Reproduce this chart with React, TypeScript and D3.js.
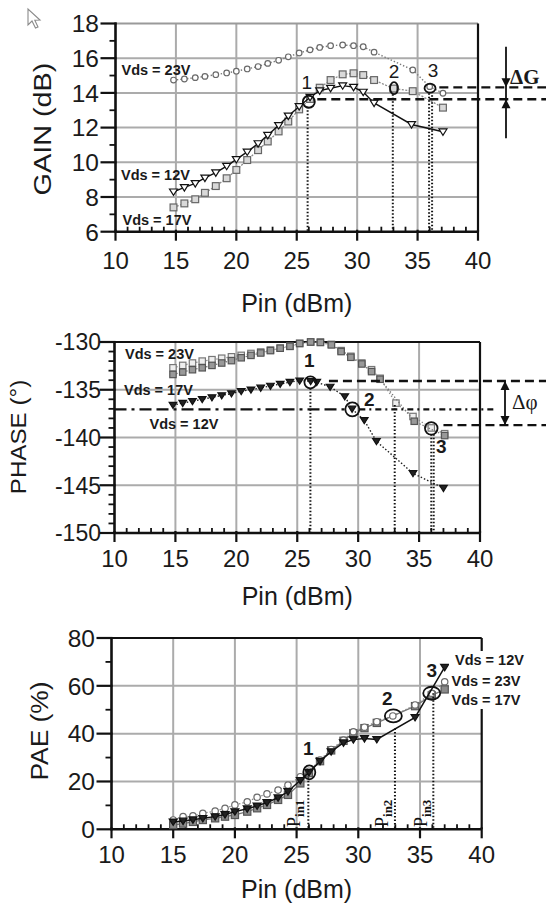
import React from "react";
import * as d3 from "d3";

const FONT = "'Liberation Sans', Arial, Helvetica, sans-serif";
const SERIF = "'Liberation Serif', 'Times New Roman', serif";

// ---------- GAIN (dB) vs Pin (dBm) ----------
const GAIN_PIN = [14.8, 15.7, 16.6, 17.4, 18.3, 19.2, 20.0, 20.9, 21.8, 22.6, 23.5, 24.3, 25.2, 26.1, 26.9, 27.8, 28.8, 29.7, 30.5, 31.4];
const GAIN_12 = [8.3, 8.55, 8.78, 9.1, 9.4, 9.78, 10.17, 10.6, 11.08, 11.56, 12.13, 12.67, 13.22, 13.75, 14.13, 14.27, 14.42, 14.33, 14.05, 13.42];
const GAIN_12_TAIL_PIN = [34.5, 37.1];
const GAIN_12_TAIL = [12.18, 11.76];
const GAIN_17 = [7.4, 7.63, 7.87, 8.24, 8.63, 9.08, 9.56, 10.13, 10.7, 11.2, 11.78, 12.35, 13.05, 13.65, 14.3, 14.74, 15.07, 15.13, 15.03, 14.74];
const GAIN_17_TAIL_PIN = [33.0, 34.6, 37.1];
const GAIN_17_TAIL = [14.25, 14.1, 13.15];
const GAIN_23 = [14.74, 14.8, 14.88, 14.95, 15.05, 15.15, 15.25, 15.38, 15.52, 15.7, 15.88, 16.08, 16.3, 16.48, 16.62, 16.72, 16.76, 16.72, 16.66, 16.35];
const GAIN_23_TAIL_PIN = [34.6, 36.0, 37.1];
const GAIN_23_TAIL = [15.32, 14.36, 13.98];

// ---------- PHASE (deg) vs Pin (dBm) ----------
const PHASE_PIN = [14.8, 15.6, 16.4, 17.2, 18.0, 18.8, 19.6, 20.4, 21.2, 22.0, 22.8, 23.6, 24.4, 25.2, 26.1, 26.9, 27.8, 28.6, 29.4, 30.3, 31.1, 31.8];
const PHASE_23 = [-132.7, -132.45, -132.2, -132.0, -131.85, -131.7, -131.55, -131.4, -131.2, -131.05, -130.85, -130.65, -130.45, -130.15, -130.0, -130.0, -130.25, -130.9, -131.5, -132.2, -132.9, -133.8];
const PHASE_23_TAIL_PIN = [33.1, 34.5, 36.0, 37.1];
const PHASE_23_TAIL = [-136.4, -137.8, -139.0, -139.6];
const PHASE_17 = [-133.4, -133.15, -132.9, -132.7, -132.45, -132.2, -131.95, -131.65, -131.4, -131.15, -130.9, -130.65, -130.45, -130.15, -130.0, -130.05, -130.3, -131.0, -131.6, -132.3, -133.1, -133.9];
const PHASE_17_TAIL_PIN = [34.6, 37.1];
const PHASE_17_TAIL = [-138.3, -139.8];
const PHASE_12_PIN = [14.8, 15.6, 16.4, 17.2, 18.0, 18.8, 19.6, 20.4, 21.2, 22.0, 22.8, 23.6, 24.4, 25.2, 26.1, 26.6, 27.7, 28.9, 29.5, 30.5, 31.5, 34.5, 37.0];
const PHASE_12 = [-136.6, -136.4, -136.2, -136.0, -135.8, -135.6, -135.4, -135.15, -135.0, -134.8, -134.6, -134.4, -134.2, -134.05, -134.1, -134.2, -134.7, -135.7, -137.0, -138.2, -140.4, -143.75, -145.3];

// ---------- PAE (%) vs Pin (dBm) ----------
const PAE_PIN = [15, 15.8, 16.6, 17.4, 18.4, 19.2, 20, 21, 21.8, 22.6, 23.5, 24.3, 25.3, 26.0, 26.9, 27.8, 28.8, 29.6, 30.5, 31.5];
const PAE_23 = [3.9, 5.3, 5.6, 6.7, 7.65, 8.8, 10.2, 11.5, 13.4, 14.8, 16.4, 18.5, 22, 24.3, 29, 33.4, 37.3, 40.8, 42.7, 45];
const PAE_23_TAIL_PIN = [32.8, 34.6, 35.95, 37.0];
const PAE_23_TAIL = [47.4, 52, 56.9, 61.7];
const PAE_17 = [1.8, 2.4, 3.1, 3.9, 4.6, 5.3, 6.0, 7.4, 8.8, 10.2, 12.3, 14.4, 19.2, 23.5, 28.5, 33, 37, 40.2, 42.3, 44.5];
const PAE_17_TAIL_PIN = [34.6, 35.95, 37.0];
const PAE_17_TAIL = [51.5, 56, 58.5];
const PAE_12 = [3.1, 3.5, 4, 4.6, 5.3, 6.2, 7.4, 8.6, 9.8, 11.2, 13.2, 15.8, 20.5, 23.8, 28.5, 32.5, 36.2, 37.5, 38, 37.6];
const PAE_12_TAIL_PIN = [34.6, 37.0];
const PAE_12_TAIL = [46.8, 67.8];

const X_TICKS = [10, 15, 20, 25, 30, 35, 40];
const GAIN_TICKS = [6, 8, 10, 12, 14, 16, 18];
const PHASE_TICKS = [-150, -145, -140, -135, -130];
const PAE_TICKS = [0, 20, 40, 60, 80];

type Pt = [number, number];
const zip = (xs: number[], ys: number[]): Pt[] => xs.map((x, i) => [x, ys[i]] as Pt);

interface Cfg {
  sx: d3.ScaleLinear<number, number>;
  sy: d3.ScaleLinear<number, number>;
  yTicks: number[];
  yMinor: number;
  yLabelX: number;
  xLabelY: number;
  titleY: number;
  yTitle: string;
  yTitleX: number;
  yTitleY: number;
  yTitleSize: number;
  yTitleStretch: number;
  topStroke: string;
  yTickFont: number;
}

function Frame({ c }: { c: Cfg }) {
  const { sx, sy } = c;
  const [left, right] = sx.range();
  const [bottom, top] = sy.range();
  const [y0, y1] = sy.domain();
  const yMinor = d3.range(y0, y1 + 1e-6, c.yMinor).filter(v => !c.yTicks.some(t => Math.abs(t - v) < 1e-6));
  const xMinor = d3.range(10, 40.0001, 1).filter(v => v % 5 !== 0);
  const grid = "#ababab";
  return (
    <g>
      {X_TICKS.slice(1, -1).map(v => (
        <line key={"gx" + v} x1={sx(v)} x2={sx(v)} y1={top} y2={bottom} stroke={grid} strokeWidth={2} />
      ))}
      {c.yTicks.slice(1, -1).map(v => (
        <line key={"gy" + v} x1={left} x2={right} y1={sy(v)} y2={sy(v)} stroke={grid} strokeWidth={2} />
      ))}
      <line x1={left} x2={right} y1={top} y2={top} stroke={c.topStroke} strokeWidth={2} />
      <line x1={right} x2={right} y1={top} y2={bottom} stroke="#111" strokeWidth={2.2} />
      <line x1={left} x2={left} y1={top - 1} y2={bottom + 1} stroke="#111" strokeWidth={2.6} />
      <line x1={left - 1} x2={right} y1={bottom} y2={bottom} stroke="#111" strokeWidth={2.6} />
      {c.yTicks.map(v => (
        <line key={"ty" + v} x1={left - 15} x2={left + 1} y1={sy(v)} y2={sy(v)} stroke="#111" strokeWidth={2.2} />
      ))}
      {yMinor.map(v => (
        <line key={"tym" + v} x1={left - 6} x2={left} y1={sy(v)} y2={sy(v)} stroke="#111" strokeWidth={1.8} />
      ))}
      {X_TICKS.map(v => (
        <line key={"tx" + v} x1={sx(v)} x2={sx(v)} y1={bottom - 2} y2={bottom + 9} stroke="#111" strokeWidth={2.2} />
      ))}
      {xMinor.map(v => (
        <line key={"txm" + v} x1={sx(v)} x2={sx(v)} y1={bottom - 5} y2={bottom} stroke="#111" strokeWidth={1.8} />
      ))}
      {c.yTicks.map(v => (
        <text key={"ly" + v} x={c.yLabelX} y={sy(v) + c.yTickFont * 0.36} textAnchor="end"
          fontFamily={FONT} fontSize={c.yTickFont} fill="#1a1a1a">{String(v)}</text>
      ))}
      {X_TICKS.map(v => (
        <text key={"lx" + v} x={sx(v)} y={c.xLabelY} textAnchor="middle"
          fontFamily={FONT} fontSize={24} fill="#1a1a1a">{String(v)}</text>
      ))}
      <text x={(left + right) / 2} y={c.titleY} textAnchor="middle" fontFamily={FONT} fontSize={25} fill="#1a1a1a">Pin (dBm)</text>
      <text transform={`translate(${c.yTitleX},${c.yTitleY}) rotate(-90) scale(${c.yTitleStretch},1)`}
        textAnchor="middle" fontFamily={FONT} fontSize={c.yTitleSize} fill="#1a1a1a">{c.yTitle}</text>
    </g>
  );
}

type MarkerKind = "circle" | "square" | "tri";
interface SStyle {
  color: string; width: number; dash?: string;
  marker: MarkerKind; mStroke: string; mFill: string; size: number;
}

function Marker({ k, x, y, s }: { k: MarkerKind; x: number; y: number; s: SStyle }) {
  const z = s.size;
  if (k === "circle") return <circle cx={x} cy={y} r={z} fill={s.mFill} stroke={s.mStroke} strokeWidth={1.2} />;
  if (k === "square") return <rect x={x - z} y={y - z} width={2 * z} height={2 * z} fill={s.mFill} stroke={s.mStroke} strokeWidth={1.2} />;
  return <path d={`M${x - z},${y - z * 0.7}L${x + z},${y - z * 0.7}L${x},${y + z * 0.9}Z`} fill={s.mFill} stroke={s.mStroke} strokeWidth={1.2} />;
}

function Series({ pts, sx, sy, s }: { pts: Pt[]; sx: any; sy: any; s: SStyle }) {
  const line = d3.line<Pt>().x(d => sx(d[0])).y(d => sy(d[1]))(pts) || "";
  return (
    <g>
      <path d={line} fill="none" stroke={s.color} strokeWidth={s.width} strokeDasharray={s.dash} />
      {pts.map((p, i) => <Marker key={i} k={s.marker} x={sx(p[0])} y={sy(p[1])} s={s} />)}
    </g>
  );
}

const S23: SStyle = { color: "#7a7a7a", width: 1.4, dash: "1.4 2", marker: "circle", mStroke: "#6a6a6a", mFill: "#fff", size: 2.8 };
const S17: SStyle = { color: "#8a8a8a", width: 1.3, dash: "2 1.5", marker: "square", mStroke: "#666", mFill: "#d9d9d9", size: 3.4 };
const S12: SStyle = { color: "#111", width: 1.4, marker: "tri", mStroke: "#111", mFill: "#fff", size: 4 };

const P23: SStyle = { color: "#8a8a8a", width: 1.3, dash: "1.4 2", marker: "square", mStroke: "#777", mFill: "#eee", size: 3.2 };
const P17: SStyle = { color: "#777", width: 1.3, dash: "1.4 2", marker: "square", mStroke: "#555", mFill: "#999", size: 3.2 };
const P12: SStyle = { color: "#222", width: 1.4, dash: "1.5 2", marker: "tri", mStroke: "#111", mFill: "#222", size: 3.8 };

const E23: SStyle = { color: "#888", width: 1.3, dash: "1.4 2", marker: "circle", mStroke: "#6a6a6a", mFill: "#fff", size: 3.2 };
const E17: SStyle = { color: "#777", width: 1.3, marker: "square", mStroke: "#555", mFill: "#8a8a8a", size: 3.6 };
const E12: SStyle = { color: "#111", width: 1.5, marker: "tri", mStroke: "#111", mFill: "#222", size: 4 };

const vds = (t: string, x: number, y: number, key: string) => (
  <text key={key} x={x} y={y} fontFamily={FONT} fontWeight="bold" fontSize={14.5} fill="#1a1a1a">{t}</text>
);

function Num({ t, x, y, bold }: { t: string; x: number; y: number; bold?: boolean }) {
  return <text x={x} y={y} textAnchor="middle" fontFamily={FONT} fontSize={19} fontWeight={bold ? "bold" : "normal"} fill="#1a1a1a">{t}</text>;
}

function VDot({ x, y1, y2 }: { x: number; y1: number; y2: number }) {
  return <line x1={x} x2={x} y1={y1} y2={y2} stroke="#111" strokeWidth={2} strokeDasharray="1.5 2" />;
}

function Arrow({ x, tip, dir }: { x: number; tip: number; dir: 1 | -1 }) {
  const b = tip - dir * 9;
  return <path d={`M${x - 4.5},${b}L${x + 4.5},${b}L${x},${tip}Z`} fill="#111" />;
}

export default function App() {
  const gx = d3.scaleLinear().domain([10, 40]).range([115.5, 478]);
  const gy = d3.scaleLinear().domain([6, 18]).range([231.7, 23.5]);
  const px = d3.scaleLinear().domain([10, 40]).range([114.5, 480]);
  const py = d3.scaleLinear().domain([-150, -130]).range([533, 342]);
  const ex = d3.scaleLinear().domain([10, 40]).range([111.5, 481.7]);
  const ey = d3.scaleLinear().domain([0, 80]).range([829.3, 638]);

  const gainCfg: Cfg = {
    sx: gx, sy: gy, yTicks: GAIN_TICKS, yMinor: 1, yLabelX: 99, xLabelY: 268.5, titleY: 311.5,
    yTitle: "GAIN (dB)", yTitleX: 50.5, yTitleY: 129, yTitleSize: 24, yTitleStretch: 1.2, topStroke: "#9a9a9a", yTickFont: 24.5,
  };
  const phaseCfg: Cfg = {
    sx: px, sy: py, yTicks: PHASE_TICKS, yMinor: 1, yLabelX: 101, xLabelY: 566.5, titleY: 605,
    yTitle: "PHASE (°)", yTitleX: 26, yTitleY: 437, yTitleSize: 22, yTitleStretch: 1.1, topStroke: "#111", yTickFont: 23,
  };
  const paeCfg: Cfg = {
    sx: ex, sy: ey, yTicks: PAE_TICKS, yMinor: 10, yLabelX: 95, xLabelY: 863, titleY: 898,
    yTitle: "PAE (%)", yTitleX: 47.5, yTitleY: 731, yTitleSize: 24, yTitleStretch: 1.1, topStroke: "#111", yTickFont: 24.5,
  };

  const g1: Pt = [26.0, 13.49], g2: Pt = [33.05, 14.27], g3: Pt = [36.03, 14.27];
  const gDashHi = 14.32, gDashLo = 13.63;
  const p1: Pt = [26.08, -134.22], p2: Pt = [29.52, -137.05], p3: Pt = [36.0, -139.04];
  const pDashHi = -134.08, pDashLo = -138.7;
  const e1: Pt = [26.03, 23.84], e2: Pt = [32.84, 47.4], e3: Pt = [35.95, 56.9];

  return (
    <svg width={546} height={907} viewBox="0 0 546 907" style={{ display: "block", position: "absolute", left: 0, top: 0, background: "#fff" }}>
      <rect x={0} y={0} width={546} height={907} fill="#fff" />
      <path d="M28,9 L28,25 L32,21 L35.5,28 L38,27 L34.8,20.2 L40,20 Z" fill="#fff" stroke="#8a8a8a" strokeWidth={1.1} />

      {/* ================= GAIN ================= */}
      <Frame c={gainCfg} />
      <Series pts={zip(GAIN_PIN, GAIN_23).concat(zip(GAIN_23_TAIL_PIN, GAIN_23_TAIL))} sx={gx} sy={gy} s={S23} />
      <Series pts={zip(GAIN_PIN, GAIN_17).concat(zip(GAIN_17_TAIL_PIN, GAIN_17_TAIL))} sx={gx} sy={gy} s={S17} />
      <Series pts={zip(GAIN_PIN, GAIN_12).concat(zip(GAIN_12_TAIL_PIN, GAIN_12_TAIL))} sx={gx} sy={gy} s={S12} />
      <VDot x={gx(25.9)} y1={gy(g1[1]) + 5} y2={gy(6)} />
      <VDot x={gx(32.95)} y1={gy(g2[1]) + 6} y2={gy(6)} />
      <VDot x={gx(35.95)} y1={gy(g3[1]) + 5} y2={gy(6)} />
      <VDot x={gx(36.2)} y1={gy(g3[1]) + 7} y2={gy(6)} />
      <line x1={gx(26.7)} x2={546} y1={gy(gDashLo)} y2={gy(gDashLo)} stroke="#111" strokeWidth={2.4} strokeDasharray="9 5" />
      <line x1={gx(36.8)} x2={546} y1={gy(gDashHi)} y2={gy(gDashHi)} stroke="#111" strokeWidth={2.4} strokeDasharray="9 5" />
      <circle cx={gx(g1[0])} cy={gy(g1[1])} r={6} fill="none" stroke="#111" strokeWidth={1.8} />
      <ellipse cx={gx(g2[0])} cy={gy(g2[1])} rx={4} ry={6} fill="none" stroke="#111" strokeWidth={1.8} />
      <ellipse cx={gx(g3[0])} cy={gy(g3[1])} rx={5.5} ry={4.5} fill="none" stroke="#111" strokeWidth={1.8} />
      <Num t="1" x={gx(g1[0]) - 2} y={gy(g1[1]) - 13} />
      <Num t="2" x={gx(g2[0])} y={gy(g2[1]) - 10} />
      <Num t="3" x={gx(g3[0]) + 3} y={gy(g3[1]) - 11.5} />
      <line x1={506} x2={506} y1={46.7} y2={138.3} stroke="#111" strokeWidth={1.8} />
      <Arrow x={506} tip={gy(gDashHi)} dir={1} />
      <Arrow x={506} tip={gy(gDashLo)} dir={-1} />
      <text x={510} y={83.5} fontFamily={SERIF} fontSize={21} fontWeight="bold" fill="#1a1a1a">ΔG</text>
      {vds("Vds = 23V", 121.5, 75, "g23")}
      {vds("Vds = 12V", 121, 180, "g12")}
      {vds("Vds = 17V", 122.5, 225, "g17")}

      {/* ================= PHASE ================= */}
      <Frame c={phaseCfg} />
      <Series pts={zip(PHASE_PIN, PHASE_23).concat(zip(PHASE_23_TAIL_PIN, PHASE_23_TAIL))} sx={px} sy={py} s={P23} />
      <Series pts={zip(PHASE_PIN, PHASE_17).concat(zip(PHASE_17_TAIL_PIN, PHASE_17_TAIL))} sx={px} sy={py} s={P17} />
      <Series pts={zip(PHASE_12_PIN, PHASE_12)} sx={px} sy={py} s={P12} />
      <VDot x={px(p1[0])} y1={py(p1[1]) + 6} y2={py(-150)} />
      <VDot x={px(33.0)} y1={py(-136.6)} y2={py(-150)} />
      <VDot x={px(p3[0])} y1={py(p3[1]) + 6} y2={py(-150)} />
      <VDot x={px(36.2)} y1={py(p3[1]) + 6} y2={py(-150)} />
      <line x1={px(27.6)} x2={546} y1={py(pDashHi)} y2={py(pDashHi)} stroke="#111" strokeWidth={2.4} strokeDasharray="9 5" />
      <line x1={px(10)} x2={px(p2[0]) - 7} y1={py(p2[1])} y2={py(p2[1])} stroke="#111" strokeWidth={2.2} strokeDasharray="12 5 3 5 12 5" />
      <line x1={px(p2[0]) + 7} x2={497} y1={py(p2[1])} y2={py(p2[1])} stroke="#111" strokeWidth={2.2} strokeDasharray="6 4 2 4" />
      <line x1={px(37.0)} x2={546} y1={py(pDashLo)} y2={py(pDashLo)} stroke="#111" strokeWidth={2.4} strokeDasharray="9 5" />
      <circle cx={px(p1[0])} cy={py(p1[1])} r={6} fill="none" stroke="#111" strokeWidth={1.8} />
      <circle cx={px(p2[0])} cy={py(p2[1])} r={7} fill="none" stroke="#111" strokeWidth={1.8} />
      <circle cx={px(p3[0])} cy={py(p3[1])} r={6.3} fill="none" stroke="#111" strokeWidth={1.8} />
      <Num t="1" x={px(p1[0]) - 1} y={py(p1[1]) - 15.5} bold />
      <Num t="2" x={px(p2[0]) + 17} y={py(p2[1]) - 3} bold />
      <Num t="3" x={px(p3[0]) + 10} y={py(p3[1]) + 25} bold />
      <line x1={505} x2={505} y1={py(pDashHi)} y2={py(pDashLo)} stroke="#111" strokeWidth={1.8} />
      <Arrow x={505} tip={py(pDashHi)} dir={-1} />
      <Arrow x={505} tip={py(pDashLo)} dir={1} />
      <text x={512} y={409} fontFamily={SERIF} fontSize={21} fill="#1a1a1a">Δφ</text>
      {vds("Vds = 23V", 125, 358.5, "p23")}
      {vds("Vds = 17V", 124, 395, "p17")}
      {vds("Vds = 12V", 149.5, 428.5, "p12")}

      {/* ================= PAE ================= */}
      <Frame c={paeCfg} />
      <Series pts={zip(PAE_PIN, PAE_17).concat(zip(PAE_17_TAIL_PIN, PAE_17_TAIL))} sx={ex} sy={ey} s={E17} />
      <Series pts={zip(PAE_PIN, PAE_23).concat(zip(PAE_23_TAIL_PIN, PAE_23_TAIL))} sx={ex} sy={ey} s={E23} />
      <Series pts={zip(PAE_PIN, PAE_12).concat(zip(PAE_12_TAIL_PIN, PAE_12_TAIL))} sx={ex} sy={ey} s={E12} />
      <VDot x={ex(25.95)} y1={ey(e1[1]) - 2} y2={ey(0)} />
      <VDot x={ex(32.97)} y1={ey(42.2)} y2={ey(0)} />
      <VDot x={ex(36.08)} y1={ey(e3[1])} y2={ey(0)} />
      <ellipse cx={ex(e1[0])} cy={ey(e1[1])} rx={6} ry={7} fill="none" stroke="#111" strokeWidth={1.8} />
      <ellipse cx={ex(e2[0])} cy={ey(e2[1])} rx={8.5} ry={6.5} fill="none" stroke="#111" strokeWidth={1.8} />
      <ellipse cx={ex(e3[0])} cy={ey(e3[1])} rx={8.5} ry={6.5} fill="none" stroke="#111" strokeWidth={1.8} />
      <Num t="1" x={ex(e1[0]) - 1} y={ey(e1[1]) - 17} bold />
      <Num t="2" x={ex(e2[0]) - 6} y={ey(e2[1]) - 11} bold />
      <Num t="3" x={ex(e3[0])} y={ey(e3[1]) - 16.5} bold />
      {[{ x: ex(25.3), s: "in1" }, { x: ex(32.4), s: "in2" }, { x: ex(35.6), s: "in3" }].map((d, i) => (
        <text key={"pin" + i} transform={`translate(${d.x},827) rotate(-90)`} fontFamily={SERIF} fontSize={18} fill="#111">
          P<tspan fontSize={13} fontWeight="bold" dy={4}>{d.s}</tspan>
        </text>
      ))}
      <rect x={449} y={651} width={72} height={58} fill="#fff" />
      {vds("Vds = 12V", 455, 665, "e12")}
      {vds("Vds = 23V", 451.5, 685.5, "e23")}
      {vds("Vds = 17V", 451.5, 704.5, "e17")}
    </svg>
  );
}
